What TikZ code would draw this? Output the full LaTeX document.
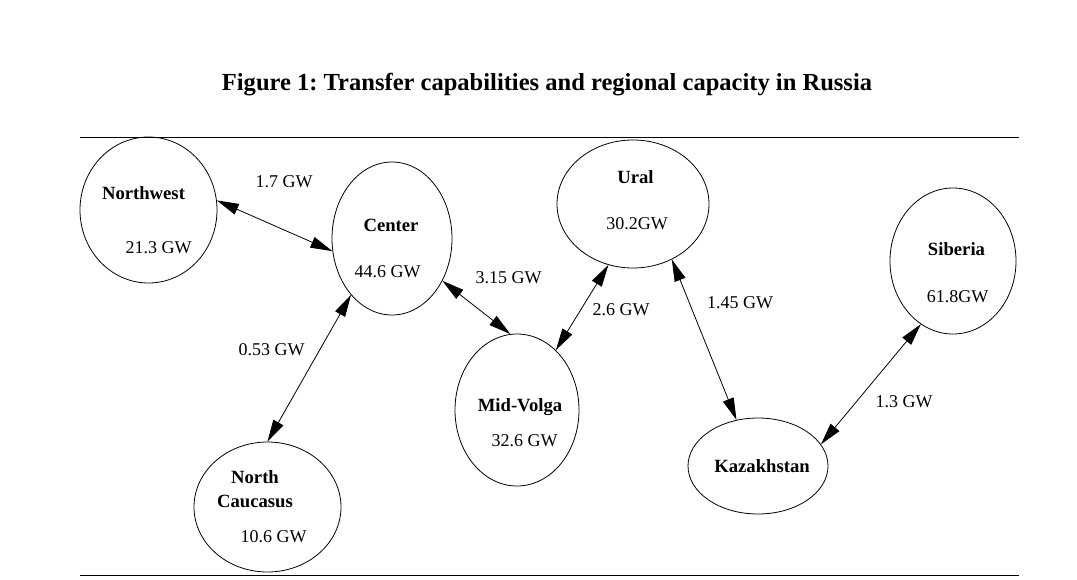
\documentclass[tikz,border=0pt]{standalone}
\usepackage{fontspec}
\setmainfont{Liberation Serif}
\frenchspacing
\usetikzlibrary{shapes.geometric, arrows.meta, positioning}

\tikzset{
  region/.style 2 args={draw, ellipse, line width=0.6pt, inner sep=0pt, minimum width=#1*0.75pt, minimum height=#2*0.75pt},
  rname/.style={font=\fontsize{14}{16}\selectfont\bfseries, anchor=base, inner sep=0pt},
  rcap/.style={font=\fontsize{13.5}{16}\selectfont, anchor=base, inner sep=0pt},
  flow/.style={<->, >={Triangle[length=16.5pt,width=8.5pt]}, line width=0.6pt}
}

\begin{document}
\begin{tikzpicture}[x=0.75pt, y=-0.75pt]
\useasboundingbox (0,0) rectangle (1077,579);

% title and rules
\node[font=\fontsize{18.4}{22}\selectfont\bfseries, anchor=base, inner sep=0pt] (title) at (547,90) {Figure 1: Transfer capabilities and regional capacity in Russia};
\draw[line width=0.7pt] (80,137) -- (1019,137);
\draw[line width=0.7pt] (80,575) -- (1019,575);

% regions
\node[region={137}{146}] (nw) at (148.5,210) {};
\node[region={120}{153}] (cen) at (392,238.5) {};
\node[region={152}{128}] (ural) at (633,204) {};
\node[region={124}{152}] (mv) at (517,410) {};
\node[region={140}{96}] (kaz) at (758,466) {};
\node[region={126}{146}] (sib) at (953,261) {};
\node[region={147}{130}] (nc) at (267.5,507) {};

\node[rname] (nwname) at (143.5,199) {Northwest};
\node[rcap] (nwcap) at (158.5,253) {21.3 GW};
\node[rname] (cenname) at (391,231) {Center};
\node[rcap] (cencap) at (387.5,277) {44.6 GW};
\node[rname] (uralname) at (635.5,183) {Ural};
\node[rcap] (uralcap) at (637,229) {30.2GW};
\node[rname] (mvname) at (520,411) {Mid-Volga};
\node[rcap] (mvcap) at (524.5,446) {32.6 GW};
\node[rname] (kazname) at (762,472) {Kazakhstan};
\node[rname] (sibname) at (956.5,255) {Siberia};
\node[rcap] (sibcap) at (957.5,302) {61.8GW};
\node[rname] (ncname) at (255,483) {North};
\node[rname] (ncname2) at (255,507) {Caucasus};
\node[rcap] (nccap) at (273.5,542) {10.6 GW};

% transfer labels
\node[rcap] (nwcen) at (284,187) {1.7 GW};
\node[rcap] (cennc) at (271.5,355) {0.53 GW};
\node[rcap] (cenmv) at (508.5,283) {3.15 GW};
\node[rcap] (mvural) at (621,315) {2.6 GW};
\node[rcap] (uralkaz) at (740,308) {1.45 GW};
\node[rcap] (kazsib) at (904,407) {1.3 GW};

% links
\draw[flow] (nw.8) -- (cen.192);
\draw[flow] (cen.234) -- (nc.90);
\draw[flow] (cen.320) -- (mv.95);
\draw[flow] (mv.57) -- (ural.248);
\draw[flow] (ural.305) -- (kaz.115);
\draw[flow] (kaz.19) -- (sib.243);

\end{tikzpicture}
\end{document}
